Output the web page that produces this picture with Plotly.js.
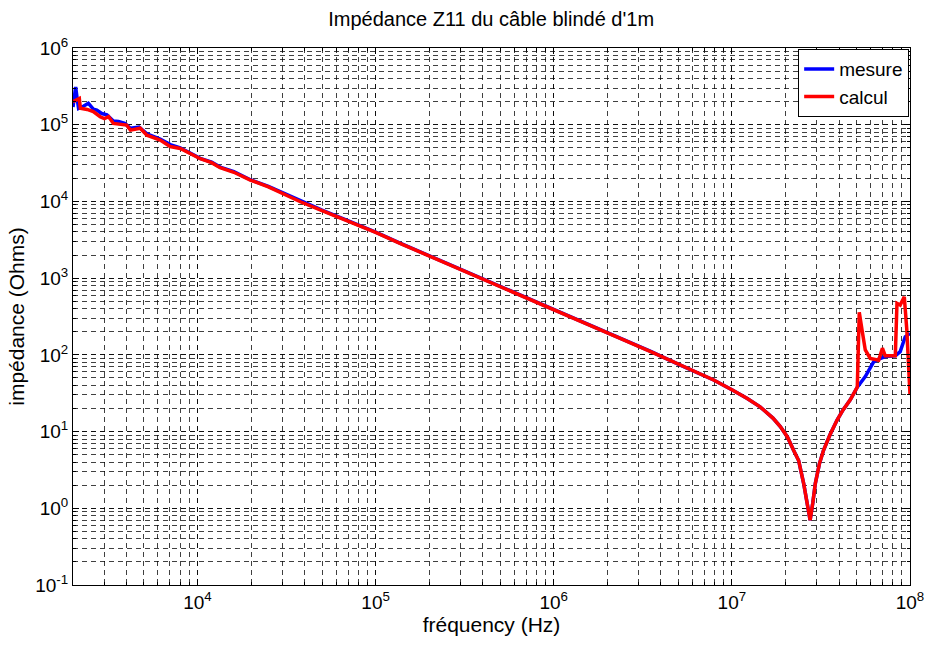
<!DOCTYPE html>
<html>
<head>
<meta charset="utf-8">
<script src="https://cdn.plot.ly/plotly-3.0.1.min.js"></script>
<style>html,body{margin:0;padding:0;background:#fff;}#chart{width:927px;height:645px;}</style>
</head>
<body>
<div id="chart"></div>
<script>
// Data
const freqCalcul = [2000,2070,2170,2200,2400,2600,2840,3000,3170,3370,3700,4000,4200,4770,5200,5600,6170,7030,8000,9500,
  1.035e4,1.2e4,1.34e4,1.6e4,1.98e4,2.5e4,3.0e4,3.78e4,5.0e4,7.2e4,1.0e5,1.37e5,2.0e5,3.87e5,6.0e5,1.0e6,2.36e6,3.5e6,5.1e6,7.9e6,
  1.0e7,1.22e7,1.44e7,1.51e7,1.7e7,1.87e7,2.05e7,2.22e7,2.37e7,2.53e7,2.65e7,2.75e7,2.85e7,2.94e7,3.1e7,3.27e7,3.55e7,3.89e7,4.2e7,4.62e7,
  5.06e7,5.19e7,5.38e7,5.61e7,5.98e7,6.67e7,7.0e7,7.26e7,8.27e7,8.45e7,8.81e7,9.29e7,9.6e7,1.0e8];
const zCalcul = [2.0e5,2.1e5,2.2e5,1.64e5,1.58e5,1.48e5,1.27e5,1.2e5,1.27e5,1.04e5,1.0e5,9.9e4,8.5e4,9.0e4,7.3e4,6.9e4,6.3e4,5.2e4,4.9e4,4.0e4,
  3.6e4,3.2e4,2.75e4,2.4e4,1.9e4,1.55e4,1.28e4,9.9e3,7.6e3,5.4e3,3.95e3,2.84e3,1.95e3,994,640,384,164,110,74,47,
  35,27,21,19,15,11.6,8.5,5.7,4.2,2.1,1.1,0.7,1.2,2.1,3.8,5.7,9,14,19,26,
  38,360,210,116,90,85,122,97,97,470,446,571,210,30];

const freqMesure = [2000,2040,2070,2110,2150,2300,2440,2600,2720,2900,3100,3370,3600,3900,4200,4700,5200,6170,7030,8000,9500,
  1.035e4,1.2e4,1.34e4,1.6e4,1.98e4,2.5e4,3.0e4,3.78e4,5.0e4,7.2e4,1.0e5,1.37e5,2.0e5,3.87e5,6.0e5,1.0e6,2.36e6,3.5e6,5.1e6,7.9e6,
  1.0e7,1.22e7,1.44e7,1.51e7,1.7e7,1.87e7,2.05e7,2.22e7,2.37e7,2.53e7,2.65e7,2.75e7,2.85e7,2.94e7,3.1e7,3.27e7,3.55e7,3.89e7,4.2e7,4.62e7,
  5.06e7,5.61e7,6.25e7,6.67e7,7.26e7,8.27e7,8.81e7,9.4e7,1.0e8];
const zMesure = [1.7e5,2.4e5,3.1e5,2.2e5,1.63e5,1.75e5,1.9e5,1.6e5,1.55e5,1.4e5,1.35e5,1.12e5,1.1e5,1.04e5,9.0e4,9.3e4,7.6e4,6.5e4,5.5e4,5.0e4,4.1e4,
  3.65e4,3.25e4,2.8e4,2.45e4,1.92e4,1.57e4,1.3e4,1.0e4,7.7e3,5.45e3,3.98e3,2.86e3,1.96e3,1000,645,386,165,111,74,47,
  35,27,21,19,15,11.6,8.5,5.7,4.2,2.1,1.1,0.7,1.2,2.1,3.8,5.7,9,14,19,26,
  38,52,81,88,95,97,110,172,190];

const seriesNames = ['mesure','calcul'];
const xTickVals = [1e4, 1e5, 1e6, 1e7, 1e8];
const xTickText = ['10<sup>4</sup>','10<sup>5</sup>','10<sup>6</sup>','10<sup>7</sup>','10<sup>8</sup>'];
const yTickVals = [0.1, 1, 10, 100, 1e3, 1e4, 1e5, 1e6];
const yTickText = ['10<sup>-1</sup>','10<sup>0</sup>','10<sup>1</sup>','10<sup>2</sup>','10<sup>3</sup>','10<sup>4</sup>','10<sup>5</sup>','10<sup>6</sup>'];
const titleText = "Impédance Z11 du câble blindé d'1m";
const xTitle = 'fréquency (Hz)';
const yTitle = 'impédance (Ohms)';

const FONT = 'Liberation Sans, Arial, Helvetica, sans-serif';
const gridDash = '5px,4px';

const traces = [
  {x: freqMesure, y: zMesure, name: seriesNames[0], mode: 'lines', type: 'scatter',
   line: {color: '#0000ff', width: 3.5}},
  {x: freqCalcul, y: zCalcul, name: seriesNames[1], mode: 'lines', type: 'scatter',
   line: {color: '#ff0000', width: 3.5}}
];

const axisCommon = {
  type: 'log',
  tickmode: 'array',
  showgrid: true,
  gridcolor: 'rgba(0,0,0,0.75)',
  gridwidth: 1,
  griddash: gridDash,
  showline: true,
  linecolor: '#000',
  linewidth: 1,
  mirror: 'ticks',
  ticks: 'inside',
  ticklen: 6,
  tickcolor: '#000',
  ticklabeloverflow: 'allow',
  tickfont: {family: FONT, size: 19, color: '#000'},
  zeroline: false,
  minor: {dtick: 'D1', showgrid: true, gridcolor: 'rgba(0,0,0,0.75)', gridwidth: 1, griddash: gridDash,
          ticks: 'inside', ticklen: 3, tickcolor: '#000'}
};

const layout = {
  width: 927, height: 645,
  margin: {l: 73, r: 17, t: 48, b: 60},
  paper_bgcolor: '#fff', plot_bgcolor: '#fff',
  font: {family: FONT, size: 19, color: '#000'},
  title: {text: titleText, font: {family: FONT, size: 20, color: '#000'},
          x: 0.5298, xanchor: 'center', yref: 'container', y: 1 - 19/645, yanchor: 'middle'},
  xaxis: Object.assign({}, axisCommon, {
    range: [Math.log10(2000), 8],
    tickvals: xTickVals, ticktext: xTickText,
    title: {text: xTitle, font: {family: FONT, size: 21, color: '#000'}, standoff: 2}
  }),
  yaxis: Object.assign({}, axisCommon, {
    range: [-1, 6],
    tickvals: yTickVals, ticktext: yTickText,
    title: {text: yTitle, font: {family: FONT, size: 21, color: '#000'}, standoff: 4}
  }),
  showlegend: true,
  legend: {x: 0.999, xanchor: 'right', y: 0.998, yanchor: 'top',
           bgcolor: '#fff', bordercolor: '#000', borderwidth: 1,
           font: {family: FONT, size: 19, color: '#000'}, tracegroupgap: 0}
};

Plotly.newPlot('chart', traces, layout, {displayModeBar: false, staticPlot: true});
</script>
</body>
</html>
